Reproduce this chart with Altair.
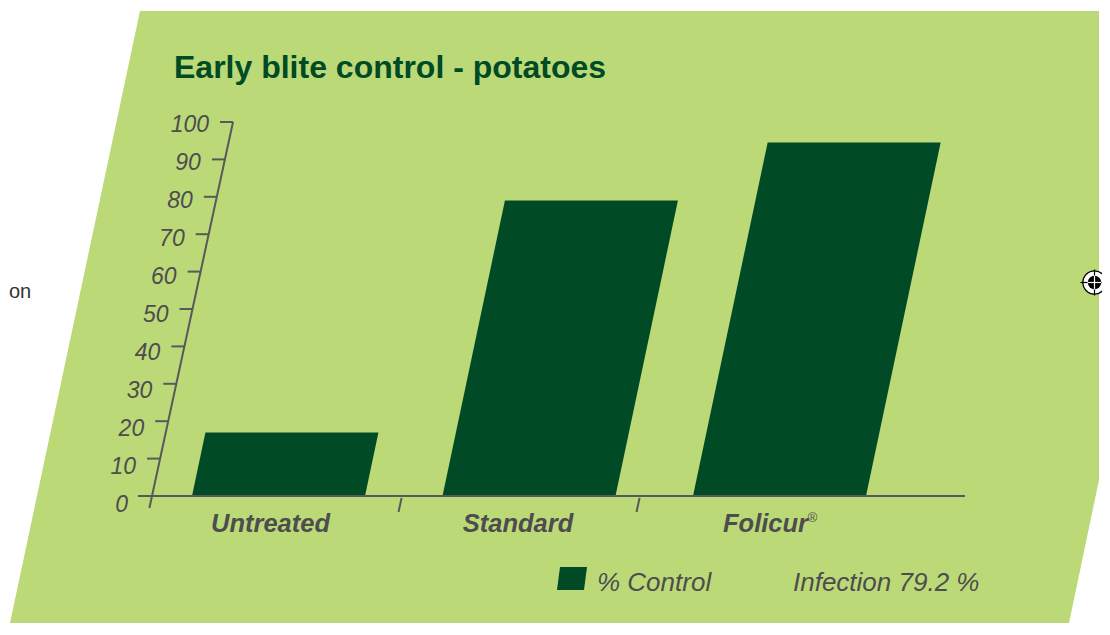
import altair as alt
import pandas as pd

# ---------------- data ----------------
categories = ["Untreated", "Standard", "Folicur"]
control_pct = [17, 79, 94.5]
y_ticks = [0, 10, 20, 30, 40, 50, 60, 70, 80, 90, 100]
title_text = "Early blite control - potatoes"
legend_text = "% Control"
note_text = "Infection 79.2 %"
reg_mark = "®"
stray_text = "on"

# ---------------- layout (page pixels) ----------------
W, H = 1094, 619
PX_PER_UNIT = 3.74
ZERO_PAGE_Y = 496


def val(page_y):
    return (ZERO_PAGE_Y - page_y) / PX_PER_UNIT


BAR_SKEW = 0.79
AXIS_SKEW = 0.81
AXIS_X0 = 152
BAR_X0 = 192
BAR_STEP = 250.5
BAR_W = 173

GREEN = "#004b26"
BG = "#bcd977"
GREY = "#4d4d4f"
AXIS_C = "#58595b"
FONT = "Liberation Sans"

xs = alt.Scale(domain=[8, 8 + W], nice=False, zero=False)
ys = alt.Scale(domain=[val(8 + H), val(8)], nice=False, zero=False)


def X(f, **kw):
    return alt.X(f, type="quantitative", scale=xs, axis=None, **kw)


def Y(f, **kw):
    return alt.Y(f, type="quantitative", scale=ys, axis=None, **kw)


# background parallelogram (cut at the right like the source page)
bg_top, bg_bot, bg_cut = val(11), val(623), val(480)
bg_df = pd.DataFrame({
    "x": [10, 140, 1069, 1099],
    "top": [bg_bot, bg_top, bg_top, bg_top],
    "bot": [bg_bot, bg_bot, bg_bot, bg_cut],
})
background = (
    alt.Chart(bg_df)
    .mark_area(color=BG, interpolate="linear")
    .encode(x=X("x"), y=Y("top", stack=None), y2="bot:Q")
)

# bars as skewed parallelograms: 4 corner points per bar (vertical area)
bar_rows = []
for i, (c, v) in enumerate(zip(categories, control_pct)):
    base = BAR_X0 + i * BAR_STEP
    shift = BAR_SKEW * v
    for xx, top, bot in [
        (base, 0, 0),
        (base + shift, v, 0),
        (base + BAR_W, v, 0),
        (base + BAR_W + shift, v, v),
    ]:
        bar_rows.append({"category": c, "x": xx, "top": top, "bot": bot})
bars = (
    alt.Chart(pd.DataFrame(bar_rows))
    .mark_area(color=GREEN, interpolate="linear")
    .encode(x=X("x"), y=Y("top", stack=None), y2="bot:Q", detail="category:N")
)

# slanted y axis line
axis_line = (
    alt.Chart(pd.DataFrame({"v0": [-3.2], "v1": [max(y_ticks)]}))
    .transform_calculate(
        x0=f"{AXIS_X0} + {AXIS_SKEW}*datum.v0",
        x1=f"{AXIS_X0} + {AXIS_SKEW}*datum.v1",
    )
    .mark_rule(color=AXIS_C, strokeWidth=2)
    .encode(x=X("x0"), x2="x1:Q", y=Y("v0"), y2="v1:Q")
)

tick_df = pd.DataFrame({"v": y_ticks})
ticks = (
    alt.Chart(tick_df)
    .transform_calculate(ax=f"{AXIS_X0} + {AXIS_SKEW}*datum.v",
                         tx=f"{AXIS_X0} + {AXIS_SKEW}*datum.v - 13")
    .mark_rule(color=AXIS_C, strokeWidth=2)
    .encode(x=X("tx"), x2="ax:Q", y=Y("v"))
)
tick_labels = (
    alt.Chart(tick_df)
    .transform_calculate(
        lx=f"{AXIS_X0} + {AXIS_SKEW}*datum.v - 24",
        ly="-2.54 + 1.0174*datum.v",
        txt="'' + datum.v",
    )
    .mark_text(align="right", baseline="middle", font=FONT, fontSize=23,
               fontStyle="italic", color=GREY)
    .encode(x=X("lx"), y=Y("ly"), text="txt:N")
)

baseline = (
    alt.Chart(pd.DataFrame({"x0": [138], "x1": [965], "v": [0]}))
    .mark_rule(color=AXIS_C, strokeWidth=2)
    .encode(x=X("x0"), x2="x1:Q", y=Y("v"))
)

separators = (
    alt.Chart(pd.DataFrame({"sx": [402, 640]}))
    .transform_calculate(
        x0=f"datum.sx - {AXIS_SKEW}*0.5",
        x1=f"datum.sx - {AXIS_SKEW}*4.3",
        v0="-0.5",
        v1="-4.3",
    )
    .mark_rule(color=AXIS_C, strokeWidth=2)
    .encode(x=X("x0"), x2="x1:Q", y=Y("v0"), y2="v1:Q")
)

cat_df = pd.DataFrame({"category": categories, "idx": list(range(len(categories)))})
label_x = f"{BAR_X0} + datum.idx*{BAR_STEP} + {BAR_W}/2 - 8 - 3*datum.idx"
cat_labels = (
    alt.Chart(cat_df)
    .transform_calculate(cx=label_x, cy="-9.6")
    .mark_text(align="center", baseline="alphabetic", font=FONT, fontSize=25.5,
               fontStyle="italic", fontWeight="bold", color=GREY)
    .encode(x=X("cx"), y=Y("cy"), text="category:N")
)
reg_label = (
    alt.Chart(cat_df)
    .transform_filter("datum.category == 'Folicur'")
    .transform_calculate(cx=f"{label_x} + 42", cy="-7.0", txt=f"'{reg_mark}'")
    .mark_text(align="left", baseline="alphabetic", font=FONT, fontSize=13,
               fontStyle="italic", color=GREY)
    .encode(x=X("cx"), y=Y("cy"), text="txt:N")
)

# legend swatch (small skewed square)
sw_b, sw_t = val(590), val(567)
sw_df = pd.DataFrame({
    "x": [557, 560, 584, 587],
    "top": [sw_b, sw_t, sw_t, sw_t],
    "bot": [sw_b, sw_b, sw_b, sw_t],
})
swatch = (
    alt.Chart(sw_df)
    .mark_area(color=GREEN, interpolate="linear")
    .encode(x=X("x"), y=Y("top", stack=None), y2="bot:Q")
)

texts_df = pd.DataFrame({
    "x": [597, 793],
    "v": [val(591), val(591)],
    "t": [legend_text, note_text],
})
legend_texts = (
    alt.Chart(texts_df)
    .mark_text(align="left", baseline="alphabetic", font=FONT, fontSize=26,
               fontStyle="italic", color=GREY)
    .encode(x=X("x"), y=Y("v"), text="t:N")
)

title = (
    alt.Chart(pd.DataFrame({"x": [174], "v": [val(78)], "t": [title_text]}))
    .mark_text(align="left", baseline="alphabetic", font=FONT, fontSize=32,
               fontWeight="bold", color=GREEN)
    .encode(x=X("x"), y=Y("v"), text="t:N")
)

stray = (
    alt.Chart(pd.DataFrame({"x": [9], "v": [val(298)], "t": [stray_text]}))
    .mark_text(align="left", baseline="alphabetic", font=FONT, fontSize=20,
               color="#333333")
    .encode(x=X("x"), y=Y("v"), text="t:N")
)

# registration mark
RX, RY = 1094.5, val(282.5)
reg_outer = (
    alt.Chart(pd.DataFrame({"x": [RX], "v": [RY]}))
    .mark_point(shape="circle", size=540, filled=False, fill="white", fillOpacity=1,
                stroke="black", strokeWidth=1.3, opacity=1)
    .encode(x=X("x"), y=Y("v"))
)
reg_cross = (
    alt.Chart(pd.DataFrame({
        "x0": [RX - 14, RX], "x1": [RX + 14, RX],
        "v0": [RY, RY - 13 / PX_PER_UNIT], "v1": [RY, RY + 13 / PX_PER_UNIT],
    }))
    .mark_rule(color="black", strokeWidth=1.2)
    .encode(x=X("x0"), x2="x1:Q", y=Y("v0"), y2="v1:Q")
)
reg_inner = (
    alt.Chart(pd.DataFrame({"x": [RX], "v": [RY]}))
    .mark_point(shape="circle", size=180, filled=True, color="black", opacity=1)
    .encode(x=X("x"), y=Y("v"))
)
reg_white = (
    alt.Chart(pd.DataFrame({
        "x0": [RX - 7, RX], "x1": [RX + 7, RX],
        "v0": [RY, RY - 7 / PX_PER_UNIT], "v1": [RY, RY + 7 / PX_PER_UNIT],
    }))
    .mark_rule(color="white", strokeWidth=1.2)
    .encode(x=X("x0"), x2="x1:Q", y=Y("v0"), y2="v1:Q")
)

chart = (
    alt.layer(
        background, bars, baseline, axis_line, ticks, separators,
        tick_labels, cat_labels, reg_label, swatch, legend_texts, title,
        stray, reg_outer, reg_cross, reg_inner, reg_white,
    )
    .properties(width=W, height=H, padding=0,
                autosize=alt.AutoSizeParams(type="none"), background="white")
    .configure_view(stroke=None)
)

chart.save("out.html", embed_options={"renderer": "svg", "actions": False})
